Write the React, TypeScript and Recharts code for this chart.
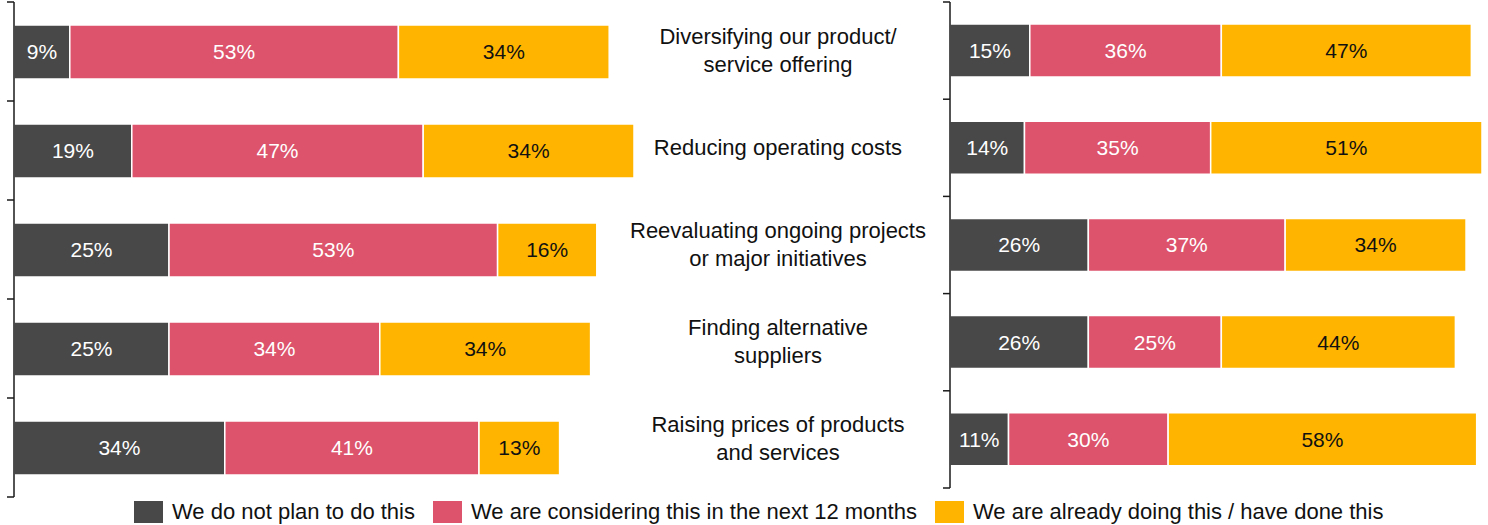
import React from "react";
import { BarChart, Bar, XAxis, YAxis, LabelList } from "recharts";

// categories shared by both panels (top to bottom)
const categories = [
  "Diversifying our product/\nservice offering",
  "Reducing operating costs",
  "Reevaluating ongoing projects\nor major initiatives",
  "Finding alternative\nsuppliers",
  "Raising prices of products\nand services",
];

const seriesNames = [
  "We do not plan to do this",
  "We are considering this in the next 12 months",
  "We are already doing this / have done this",
];
const seriesKeys = ["notPlan", "considering", "doing"];
const seriesColors = ["#484848", "#DC536B", "#FFB500"];
const labelColors = ["#ffffff", "#ffffff", "#111111"];

// left panel
const leftNotPlan = [9, 19, 25, 25, 34];
const leftConsidering = [53, 47, 53, 34, 41];
const leftDoing = [34, 34, 16, 34, 13];

// right panel
const rightNotPlan = [15, 14, 26, 26, 11];
const rightConsidering = [36, 35, 37, 25, 30];
const rightDoing = [47, 51, 34, 44, 58];

const FONT = "'Liberation Sans', Arial, sans-serif";
const AXIS_COLOR = "#1a1a1a";
const TICK_LEN = 7;

function buildRows(a: number[], b: number[], c: number[]) {
  return categories.map((name, i) => ({
    name,
    notPlan: a[i],
    considering: b[i],
    doing: c[i],
  }));
}

// tick marks sit on the band boundaries (Excel style), not at the band centre
function FrameTick({ x, y, payload, index, visibleTicksCount }: any) {
  const half = payload && payload.offset ? payload.offset : 0;
  const marks = [y - half];
  if (index === visibleTicksCount - 1) marks.push(y + half);
  return (
    <g>
      {marks.map((m, i) => (
        <line key={i} x1={x - TICK_LEN} x2={x} y1={m} y2={m} stroke={AXIS_COLOR} strokeWidth={1.5} />
      ))}
    </g>
  );
}

function CategoryTick({ x, y, payload }: any) {
  const lines = String(payload.value).split("\n");
  const cx = x - 164;
  const start = -((lines.length - 1) * 28) / 2 + 7;
  return (
    <text x={cx} y={y} textAnchor="middle" fontSize={22} fill="#111" fontFamily={FONT}>
      {lines.map((l, i) => (
        <tspan key={i} x={cx} dy={i === 0 ? start : 28}>
          {l}
        </tspan>
      ))}
    </text>
  );
}

interface PanelProps {
  rows: ReturnType<typeof buildRows>;
  width: number;
  height: number;
  margin: { top: number; right: number; bottom: number; left: number };
  barSize: number;
  frameWidth: number;
  labelWidth: number;
  withLabels?: boolean;
}

function Panel({ rows, width, height, margin, barSize, frameWidth, labelWidth, withLabels }: PanelProps) {
  return (
    <BarChart layout="vertical" width={width} height={height} data={rows} margin={margin}>
      <XAxis type="number" domain={[0, 100]} hide />
      <YAxis
        yAxisId="a"
        type="category"
        dataKey="name"
        width={frameWidth}
        interval={0}
        tick={<FrameTick />}
        tickLine={false}
        tickSize={0}
        tickMargin={0}
        axisLine={{ stroke: AXIS_COLOR, strokeWidth: 1.5 }}
      />
      <YAxis
        yAxisId="b"
        type="category"
        dataKey="name"
        width={labelWidth}
        axisLine={false}
        tickLine={false}
        tickSize={0}
        tickMargin={0}
        interval={0}
        tick={withLabels ? <CategoryTick /> : false}
      />
      {seriesKeys.map((k, i) => (
        <Bar
          key={k}
          yAxisId="b"
          dataKey={k}
          stackId="s"
          fill={seriesColors[i]}
          stroke="#ffffff"
          strokeWidth={1.5}
          barSize={barSize}
          isAnimationActive={false}
        >
          <LabelList
            dataKey={k}
            position="center"
            formatter={(v: any) => `${v}%`}
            fill={labelColors[i]}
            fontSize={21}
            fontFamily={FONT}
          />
        </Bar>
      ))}
    </BarChart>
  );
}

export default function App() {
  const leftRows = buildRows(leftNotPlan, leftConsidering, leftDoing);
  const rightRows = buildRows(rightNotPlan, rightConsidering, rightDoing);

  return (
    <div
      style={{
        position: "absolute",
        left: 0,
        top: 0,
        width: 1488,
        height: 525,
        background: "#fff",
        fontFamily: FONT,
        overflow: "hidden",
      }}
    >
      <div style={{ position: "absolute", left: 0, top: 0 }}>
        <Panel
          rows={leftRows}
          width={634}
          height={500}
          margin={{ top: 2, right: 0, bottom: 3, left: 0 }}
          barSize={54}
          frameWidth={14}
          labelWidth={0}
        />
      </div>
      <div style={{ position: "absolute", left: 620, top: 0 }}>
        <Panel
          rows={rightRows}
          width={868}
          height={490}
          margin={{ top: 2, right: 6, bottom: 2, left: 0 }}
          barSize={53}
          frameWidth={8}
          labelWidth={322}
          withLabels
        />
      </div>
      <div
        style={{
          position: "absolute",
          left: 134,
          top: 499,
          display: "flex",
          alignItems: "center",
          fontSize: 22,
          color: "#111",
          whiteSpace: "nowrap",
        }}
      >
        {seriesNames.map((n, i) => (
          <div key={n} style={{ display: "flex", alignItems: "center", marginRight: 18 }}>
            <span
              style={{
                display: "inline-block",
                width: 29,
                height: 22,
                background: seriesColors[i],
                marginRight: 9,
              }}
            />
            <span>{n}</span>
          </div>
        ))}
      </div>
    </div>
  );
}
